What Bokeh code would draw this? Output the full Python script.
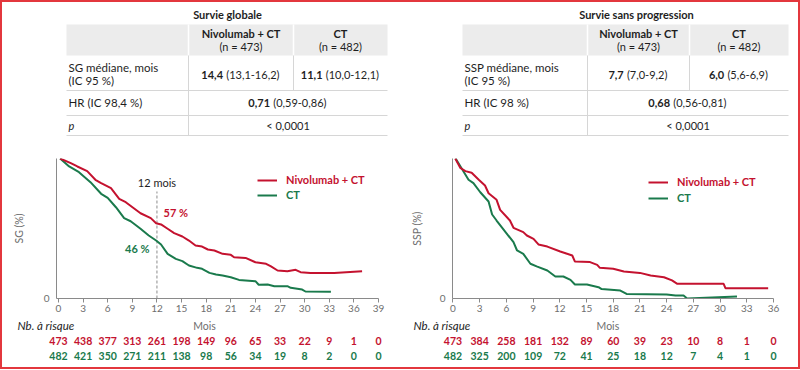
from bokeh.plotting import figure
from bokeh.layouts import column, row
from bokeh.models import (Range1d, FixedTicker, Label, Legend, LegendItem,
                          GlobalInlineStyleSheet)
from bokeh.core.properties import value
from bokeh.embed import file_html
from bokeh.resources import INLINE

# ---------------- data ----------------
arms = ["Nivolumab + CT", "CT"]
arm_n = ["(n = 473)", "(n = 482)"]

os_title = "Survie globale"
os_row_labels = ["SG médiane, mois", "(IC 95 %)", "HR (IC 98,4 %)"]
os_median = ["14,4", "11,1"]
os_median_ci = ["(13,1-16,2)", "(10,0-12,1)"]
os_hr = "0,71"
os_hr_ci = "(0,59-0,86)"
os_p = "< 0,0001"

pfs_title = "Survie sans progression"
pfs_row_labels = ["SSP médiane, mois", "(IC 95 %)", "HR (IC 98 %)"]
pfs_median = ["7,7", "6,0"]
pfs_median_ci = ["(7,0-9,2)", "(5,6-6,9)"]
pfs_hr = "0,68"
pfs_hr_ci = "(0,56-0,81)"
pfs_p = "< 0,0001"

# Overall survival curves (months, %)
os_nivo_t = [0.2, 1.5, 2.3, 3.5, 4.5, 5.2, 6.4, 7.4, 8.2, 10.0, 11.25, 11.9, 12.5, 13.3, 14.1,
             15.1, 15.9, 16.7, 17.5, 18.2, 19.0, 20.0, 21.0, 21.4, 22.8, 24.0, 25.3, 25.9,
             26.7, 27.9, 28.9, 29.5, 30.7, 33.6, 37.0]
os_nivo_s = [100, 96.7, 94.3, 91, 84.8, 82.4, 78.8, 71.2, 68.8, 60.9, 57.4, 53.8, 52.9, 49.8, 46.7,
             44.3, 41.4, 37.9, 37.1, 35, 34.3, 31.9, 31.2, 29.5, 29.0, 25.9, 24.8, 22.9,
             20.0, 19.5, 20.5, 18.8, 18.3, 18.3, 19.5]
os_ct_t = [0.2, 1.3, 2.5, 3.9, 5.2, 6.0, 7.0, 8.0, 8.8, 10.0, 11.0, 11.9, 12.5, 13.3, 14.3, 15.1,
           15.9, 16.9, 17.5, 18.4, 19.2, 20.0, 21.0, 22.0, 24.0, 24.4, 25.5, 26.3, 27.9, 28.3,
           29.7, 30.1, 33.2]
os_ct_s = [100, 94.3, 90.2, 83.1, 74.8, 71.9, 65.2, 57.4, 55.2, 49.8, 45, 41.4, 38.6, 31.9, 28.3, 26.7,
           23.6, 21.9, 21.2, 18.3, 17.1, 16.4, 15.2, 13.3, 12.4, 9.8, 10, 8.8, 8.8, 7.6,
           6.4, 5, 4.8]

# Progression-free survival curves (months, %)
pfs_nivo_t = [0.26, 0.82, 1.4, 2.1, 2.9, 3.6, 4.0, 4.9, 5.3, 6.4, 6.8, 7.9, 8.3, 9.05, 9.6, 10.6,
              12.05, 13.4, 13.7, 15.4, 16.2, 16.5, 18.0, 19.2, 21.0, 22.2, 23.7, 24.6, 25.2,
              30.4, 30.6, 35.4]
pfs_nivo_s = [100, 93.3, 91, 89.8, 84.8, 80.7, 75.2, 70.5, 63.3, 55.7, 50.5, 47.4, 45, 42.6, 38.6, 37.1,
              33.6, 30.7, 26.4, 26, 24.0, 21.9, 21.2, 19.3, 18.3, 16.4, 15.2, 12.9, 10.5,
              10.5, 7.4, 7.4]
pfs_ct_t = [0.3, 1.75, 2.3, 3.07, 4.0, 4.4, 4.9, 6.06, 6.8, 7.2, 7.9, 8.7, 9.4, 10.6, 11.5, 12.4,
            13.2, 13.7, 15.05, 16.35, 16.7, 18.8, 19.5, 24.0, 25.0, 25.9, 26.3, 31.9]
pfs_ct_s = [100, 84.8, 82.4, 75.9, 69.3, 60, 55.7, 46.2, 40.2, 34.3, 31.9, 24.8, 22.9, 20, 15.7, 15.7,
            13.3, 10, 10, 8.1, 6.7, 5.7, 3.3, 2.9, 2.1, 2.1, 0, 1.4]

os_months = [0, 3, 6, 9, 12, 15, 18, 21, 24, 27, 30, 33, 36, 39]
os_risk_nivo = [473, 438, 377, 313, 261, 198, 149, 96, 65, 33, 22, 9, 1, 0]
os_risk_ct = [482, 421, 350, 271, 211, 138, 98, 56, 34, 19, 8, 2, 0, 0]

pfs_months = [0, 3, 6, 9, 12, 15, 18, 21, 24, 27, 30, 33, 36]
pfs_risk_nivo = [473, 384, 258, 181, 132, 89, 60, 39, 23, 10, 8, 1, 0]
pfs_risk_ct = [482, 325, 200, 109, 72, 41, 25, 18, 12, 7, 4, 1, 0]

landmark_month = 12
landmark_label = "12 mois"
landmark_pct = ["57 %", "46 %"]

# ---------------- style ----------------
RED = "#c4122f"
GREEN = "#1a7a4c"
FRAME_RED = "#e3373d"
FONT = "Lato"
TXT = "#1e1e1e"
GRAY = "#8a8a8a"
TICK_TXT = "#6e6e6e"
HEAD_FILL = "#ececec"
RULE = "#d6d6d6"
FS = 11.0

# approximate Lato advance widths (em) used only to centre mixed bold/regular cells
_W = {",": 0.24, "-": 0.37, "(": 0.31, ")": 0.31, " ": 0.19, "<": 0.58}


def text_w(s, size=FS):
    return sum(_W.get(c, 0.58) for c in s) * size


def no_align(fig):
    if hasattr(fig, "frame_align"):
        fig.frame_align = False


# ---------------- tables ----------------
tab = figure(width=796, height=138, x_range=Range1d(2, 798), y_range=Range1d(140, 2),
             x_axis_type=None, y_axis_type=None, toolbar_location=None,
             output_backend="svg", min_border=0, outline_line_color=None)
tab.xgrid.visible = False
tab.ygrid.visible = False
no_align(tab)


def mixed(p, cx, y, bold, normal, common):
    gap = 0.19 * FS + 1
    total = text_w(bold) + gap + text_w(normal)
    left = cx - total / 2
    p.text(x=[left], y=[y], text=[bold], text_align="left", text_font_size=value(f"{FS}px"),
           text_font_style="bold", **common)
    p.text(x=[left + text_w(bold) + gap], y=[y], text=[normal], text_align="left",
           text_font_size=value(f"{FS}px"), **common)


def draw_table(p, x0, d1, d2, x1, title_x, title, row_labels, med, med_ci, hr, hr_ci, pval):
    hy0, hy1 = 24, 55
    p.quad(left=[x0], right=[x1], top=[hy0], bottom=[hy1], fill_color=HEAD_FILL, line_color=None)
    p.segment(x0=[d1, d2], y0=[hy0, hy0], x1=[d1, d2], y1=[hy1, hy1], line_color="white", line_width=1.5)
    p.segment(x0=[d1, d2, x0, x0, x0], y0=[hy1, hy1, 90, 115, 135],
              x1=[d1, d2, x1, x1, x1], y1=[135, 90, 90, 115, 135],
              line_color=RULE, line_width=1)
    c1 = (d1 + d2) / 2
    c2 = (d2 + x1) / 2
    common = dict(text_font=value(FONT), text_baseline="middle", text_color=TXT)
    p.text(x=[title_x], y=[14], text=[title], text_align="center",
           text_font_size=value(f"{FS}px"), text_font_style="bold", **common)
    p.text(x=[c1, c2], y=[33, 33], text=arms, text_align="center",
           text_font_size=value(f"{FS}px"), text_font_style="bold", **common)
    p.text(x=[c1, c2], y=[46, 46], text=arm_n, text_align="center",
           text_font_size=value(f"{FS}px"), **common)
    lx = x0 + 2
    p.text(x=[lx, lx, lx], y=[67, 80, 102], text=row_labels, text_align="left",
           text_font_size=value(f"{FS + 0.5}px"), **common)
    p.text(x=[lx], y=[125], text=["p"], text_align="left",
           text_font_size=value(f"{FS}px"), text_font_style="italic", **common)
    mixed(p, c1, 74, med[0], med_ci[0], common)
    mixed(p, c2, 74, med[1], med_ci[1], common)
    mixed(p, (d1 + x1) / 2, 102, hr, hr_ci, common)
    p.text(x=[(d1 + x1) / 2], y=[125], text=[pval], text_align="center",
           text_font_size=value(f"{FS}px"), **common)


draw_table(tab, 66, 188, 293, 387, 227, os_title, os_row_labels, os_median, os_median_ci,
           os_hr, os_hr_ci, os_p)
draw_table(tab, 462, 587, 689, 788, 636, pfs_title, pfs_row_labels, pfs_median, pfs_median_ci,
           pfs_hr, pfs_hr_ci, pfs_p)


# ---------------- KM panels ----------------
PANEL_W = 398


def py(pix):
    # pixel offset below the 100 % line (frame height 140 px) -> % units
    return (140 - pix) * 100 / 140


def km_panel(x_start, x_end, min_left, min_right, ylabel, ylab_standoff, months,
             t_n, s_n, t_c, s_c, risk_n, risk_c, leg_x, leg_y_red, leg_y_green,
             nb_px, mois_x, landmark=False):
    p = figure(width=PANEL_W, height=178, x_range=Range1d(x_start, x_end), y_range=Range1d(0, 100),
               toolbar_location=None, output_backend="svg",
               min_border_left=min_left, min_border_right=min_right,
               min_border_top=18, min_border_bottom=20, outline_line_color=None)
    p.xgrid.visible = False
    p.ygrid.visible = False
    no_align(p)
    for ax in (p.xaxis[0], p.yaxis[0]):
        ax.axis_line_color = GRAY
        ax.major_tick_line_color = GRAY
        ax.minor_tick_line_color = None
        ax.major_label_text_font = FONT
        ax.major_label_text_font_size = "10px"
        ax.major_label_text_color = TICK_TXT
    p.xaxis.ticker = FixedTicker(ticks=months)
    p.xaxis.major_tick_in = 0
    p.xaxis.major_tick_out = 4
    p.xaxis.major_label_standoff = 2
    p.yaxis.ticker = FixedTicker(ticks=[0])
    p.yaxis.major_tick_in = 0
    p.yaxis.major_tick_out = 0
    p.yaxis.major_label_standoff = 7
    p.yaxis.axis_label = ylabel
    p.yaxis.axis_label_standoff = ylab_standoff
    p.yaxis.axis_label_text_font = FONT
    p.yaxis.axis_label_text_font_size = "10.5px"
    p.yaxis.axis_label_text_font_style = "normal"
    p.yaxis.axis_label_text_color = TICK_TXT

    if landmark:
        p.segment(x0=[landmark_month], y0=[0], x1=[landmark_month], y1=[py(33)],
                  line_color="#8c8c8c", line_dash="3 2", line_width=1)
        p.add_layout(Label(x=landmark_month, y=py(24), text=landmark_label, text_align="center",
                           text_baseline="middle", text_font=FONT, text_font_size="11px",
                           text_color=TXT))
        p.add_layout(Label(x=12.8, y=py(54), text=landmark_pct[0], text_align="left",
                           text_baseline="middle", text_font=FONT, text_font_size="11px",
                           text_font_style="bold", text_color=RED))
        p.add_layout(Label(x=11.1, y=py(90), text=landmark_pct[1], text_align="right",
                           text_baseline="middle", text_font=FONT, text_font_size="11px",
                           text_font_style="bold", text_color=GREEN))

    rc = p.line(t_c, s_c, line_color=GREEN, line_width=2)
    rn = p.line(t_n, s_n, line_color=RED, line_width=2)

    for rend, lab, col, ly in ((rn, arms[0], RED, leg_y_red), (rc, arms[1], GREEN, leg_y_green)):
        leg = Legend(items=[LegendItem(label=lab, renderers=[rend])], location=(leg_x, ly),
                     orientation="vertical", padding=0, margin=0, spacing=0,
                     glyph_width=20, glyph_height=12, label_height=12, label_standoff=9,
                     label_text_font=FONT, label_text_font_size="11px",
                     label_text_font_style="bold", label_text_color=col,
                     background_fill_alpha=0, border_line_alpha=0)
        p.add_layout(leg)

    # number-at-risk table: a full-width figure whose x scale matches the KM frame above
    scale = (PANEL_W - min_left - min_right) / (x_end - x_start)
    a_start = x_start - min_left / scale
    a_end = x_end + min_right / scale
    r = figure(width=PANEL_W, height=49, x_range=Range1d(a_start, a_end),
               y_range=Range1d(367, 318), x_axis_type=None, y_axis_type=None,
               toolbar_location=None, output_backend="svg", min_border=0,
               outline_line_color=None)
    r.xgrid.visible = False
    r.ygrid.visible = False
    no_align(r)
    common = dict(text_font=value(FONT), text_baseline="middle")
    r.text(x=[a_start + nb_px / scale], y=[325], text=["Nb. à risque"], text_align="left",
           text_font_size=value("11.5px"), text_font_style="italic", text_color=TXT, **common)
    r.text(x=[mois_x], y=[325], text=["Mois"], text_align="center",
           text_font_size=value("10.5px"), text_color=TICK_TXT, **common)
    for risk, col, ypx in ((risk_n, RED, 340), (risk_c, GREEN, 355)):
        r.text(x=months, y=[ypx] * len(months), text=[str(v) for v in risk],
               text_align="center", text_font_size=value("10.5px"), text_font_style="bold",
               text_color=col, **common)
    return column(p, r)


km_os = km_panel(-0.24, 39, 54, 22, "SG (%)", 16, os_months, os_nivo_t, os_nivo_s,
                 os_ct_t, os_ct_s, os_risk_nivo, os_risk_ct, 201, 112, 97, 15, 17.8,
                 landmark=True)
km_pfs = km_panel(-0.05, 36, 52, 25, "SSP (%)", 14, pfs_months, pfs_nivo_t, pfs_nivo_s,
                  pfs_ct_t, pfs_ct_s, pfs_risk_nivo, pfs_risk_ct, 196, 110, 94, 13, 17.4)

root = column(tab, row(km_os, km_pfs),
              styles={"border": f"2px solid {FRAME_RED}"},
              stylesheets=[GlobalInlineStyleSheet(css="body{margin:0 !important;}")])

open("out.html", "w").write(file_html(root, INLINE))
